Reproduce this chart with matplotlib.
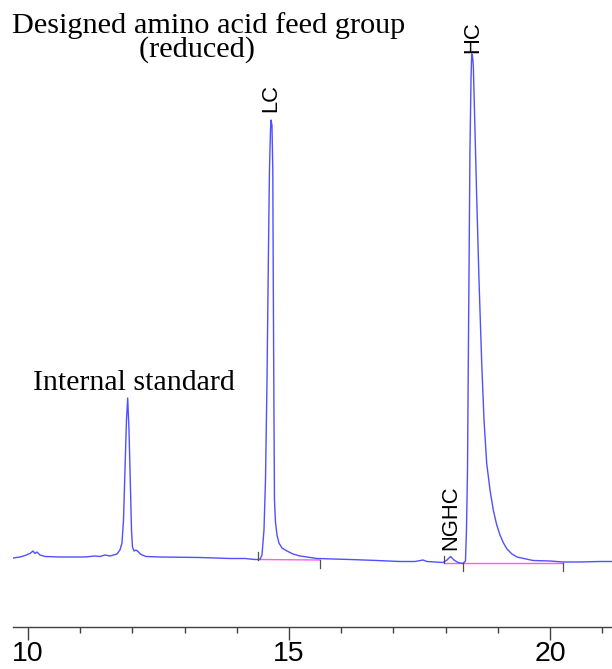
import matplotlib
matplotlib.use("Agg")
import matplotlib.pyplot as plt
from matplotlib.ticker import MultipleLocator

# ---- data (migration time, min ; signal, arbitrary units) ----
time = [9.713, 9.847, 9.943, 10.038, 10.096, 10.134, 10.172, 10.230, 10.326, 10.613,
        11.092, 11.284, 11.379, 11.475, 11.571, 11.705, 11.762, 11.801, 11.830, 11.858,
        11.887, 11.910, 11.935, 11.964, 11.983, 12.002, 12.031, 12.069, 12.107, 12.165,
        12.261, 12.529, 13.295, 13.870, 14.157, 14.349, 14.444, 14.483, 14.521, 14.550,
        14.579, 14.607, 14.626, 14.646, 14.655, 14.674, 14.690, 14.699, 14.713, 14.722,
        14.741, 14.770, 14.808, 14.866, 14.962, 15.077, 15.211, 15.536, 15.843, 16.169,
        16.686, 17.126, 17.414, 17.567, 17.644, 17.950, 18.027, 18.094, 18.161, 18.238,
        18.333, 18.381, 18.400, 18.420, 18.435, 18.452, 18.467, 18.487, 18.500, 18.515,
        18.531, 18.563, 18.596, 18.640, 18.692, 18.736, 18.787, 18.851, 18.914, 18.975,
        19.042, 19.109, 19.176, 19.272, 19.368, 19.674, 20.000, 20.249, 20.575, 20.958,
        21.188]
signal = [0.50, 0.60, 0.75, 0.95, 1.20, 0.95, 1.10, 0.80, 0.65, 0.60,
          0.60, 0.70, 0.65, 0.80, 0.70, 0.90, 1.30, 2.00, 4.30, 9.30,
          14.30, 16.50, 13.30, 7.30, 3.30, 1.60, 1.20, 1.30, 1.15, 0.85,
          0.65, 0.60, 0.55, 0.45, 0.45, 0.35, 0.35, 0.80, 3.30, 8.30,
          18.30, 31.30, 39.30, 43.30, 44.30, 43.80, 39.30, 28.30, 14.30, 6.30,
          4.10, 2.80, 2.00, 1.50, 1.20, 0.90, 0.70, 0.45, 0.40, 0.35,
          0.25, 0.15, 0.15, 0.30, 0.15, 0.05, 0.30, 0.65, 0.30, 0.05,
          -0.05, 0.20, 3.30, 9.30, 20.00, 31.30, 41.30, 48.30, 50.90, 50.70,
          49.80, 43.30, 36.60, 28.30, 20.00, 14.30, 10.00, 7.30, 5.30, 3.90,
          2.80, 2.00, 1.40, 0.90, 0.60, 0.25, 0.20, 0.10, 0.10, 0.15,
          0.15]

# integration baselines (start time, end time, start level, end level)
base_start = [14.406, 17.969, 18.333]
base_end = [15.594, 18.333, 20.249]
base_lvl0 = [0.35, 0.00, 0.00]
base_lvl1 = [0.30, 0.00, 0.00]

# integration event marks (time, level, direction +1 up / -1 down)
mark_time = [14.406, 15.594, 17.969, 18.333, 20.249]
mark_level = [0.35, 0.30, 0.00, 0.00, 0.00]
mark_dir = [1, -1, 1, -1, -1]

# peak labels
peak_names = ["LC", "NGHC", "HC"]
peak_time = [14.655, 18.094, 18.515]
peak_label_y = [45.05, 1.35, 51.0]

x_ticks_major = [10, 15, 20]

title_text = "Designed amino acid feed group\n(reduced)   "

# ---- figure ----
W, H = 612, 669
fig = plt.figure(figsize=(W / 100, H / 100), dpi=100)
ax = fig.add_axes([13 / W, (H - 627) / H, 1 - 13 / W, 627 / H])

ax.plot(time, signal, color="#5050ff", lw=1.0, zorder=3)
for t0, t1, y0, y1 in zip(base_start, base_end, base_lvl0, base_lvl1):
    ax.plot([t0, t1], [y0, y1], color="#ff5cf2", lw=1.0, zorder=2)
for t, y, d in zip(mark_time, mark_level, mark_dir):
    ax.plot([t, t], [y, y + d * 0.75], color="#505050", lw=0.9, zorder=4)

ax.set_xlim(9.713, 21.188)
ax.set_ylim(-6.4, 56.3)

for name, t, y in zip(peak_names, peak_time, peak_label_y):
    ax.text(t, y, name, rotation=90, ha="center", va="bottom",
            fontsize=15.8, family="Liberation Sans", color="black")

ax.text(10.096, 17.3, "Internal standard", ha="left", va="baseline",
        fontsize=21.5, family="Liberation Serif", color="black")

fig.text(208.5 / W, 1 - 57 / H, title_text, ha="center", va="baseline",
         multialignment="center", linespacing=0.85,
         fontsize=21.8, family="Liberation Serif")

for s in ["left", "right", "top"]:
    ax.spines[s].set_visible(False)
ax.spines["bottom"].set_color("#404040")
ax.spines["bottom"].set_linewidth(1.0)
ax.set_yticks([])
ax.set_xticks(x_ticks_major)
ax.set_xticklabels([str(v) for v in x_ticks_major])
ax.xaxis.set_minor_locator(MultipleLocator(1))
ax.tick_params(axis="x", which="major", direction="out", length=9, width=1.0,
               color="#404040", labelsize=20.5, pad=1.0)
ax.tick_params(axis="x", which="minor", direction="out", length=4.5, width=1.0,
               color="#404040")
for lab in ax.get_xticklabels():
    lab.set_family("Liberation Sans")
ax.patch.set_alpha(0)

fig.savefig("out.png", dpi=100)
